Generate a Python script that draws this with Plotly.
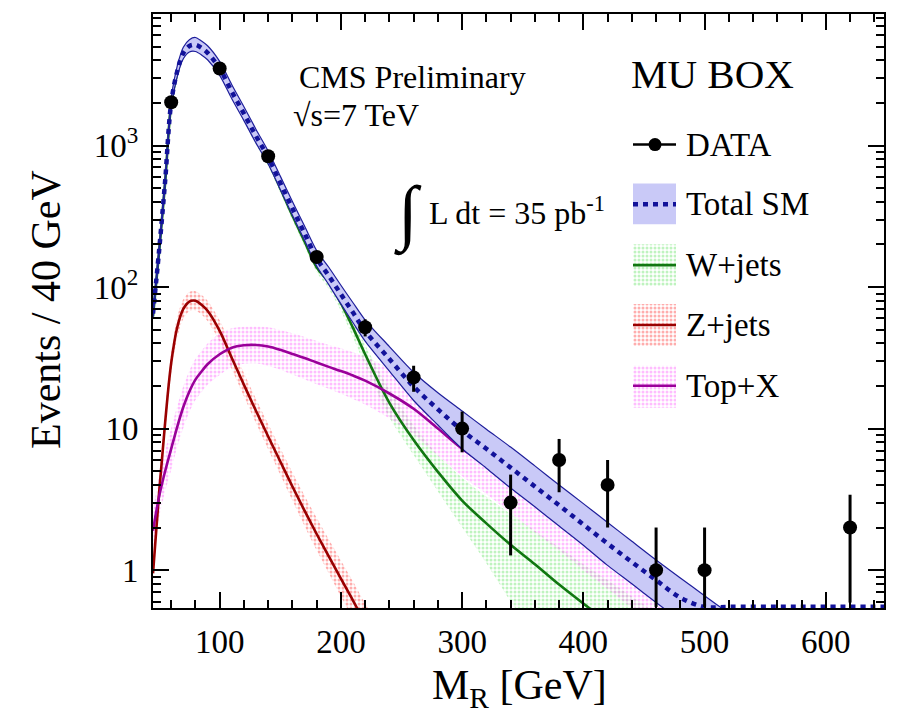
import math
import plotly.graph_objects as go

# ---------------- data ----------------
mr = [45, 50, 55, 60, 65, 70, 75, 80, 85, 90, 100, 110, 120, 130, 140, 150, 160, 170, 180, 190,
      200, 210, 220, 240, 260, 280, 300, 320, 340, 360, 380, 400, 420, 440, 460, 480, 500, 520,
      560, 600, 650]

total = [65, 180, 560, 2000, 3350, 4500, 5050, 5150, 4900, 4520, 3500, 2400, 1680, 1165, 825, 545,
         360, 240, 160, 120, 89, 66, 49, 31, 19.8, 13.7, 9.7, 7.2, 5.3, 3.9, 2.87, 2.1, 1.54, 1.14,
         0.85, 0.64, 0.55, 0.55, 0.55, 0.55, 0.55]
total_hi = [70, 194, 605, 2170, 3650, 4950, 5600, 5800, 5480, 5070, 3930, 2690, 1880, 1300, 915,
            608, 403, 270, 181, 138, 103, 77.5, 58.5, 38, 25, 17.9, 13.3, 9.9, 7.4, 5.45, 4.0, 2.95,
            2.17, 1.6, 1.18, 0.88, 0.66, 0.5, 0.34, 0.23, 0.14]
total_lo = [60, 167, 518, 1850, 3080, 4100, 4580, 4620, 4370, 4040, 3130, 2140, 1500, 1040, 740,
            490, 322, 214, 141, 104, 76, 56, 41.5, 25.5, 15.8, 10.6, 7.2, 5.25, 3.8, 2.8, 2.05, 1.5,
            1.08, 0.8, 0.59, 0.44, 0.33, 0.25, 0.16, 0.1, 0.06]

wjets = [62, 175, 545, 1950, 3250, 4350, 4900, 5000, 4750, 4370, 3400, 2310, 1600, 1095, 770, 500,
         320, 210, 138, 108, 77, 51.5, 33.5, 15.2, 8.3, 4.95, 3.1, 2.14, 1.51, 1.1, 0.79, 0.58,
         0.43, 0.32, 0.24, 0.18, 0.13, 0.1, 0.06, 0.035, 0.02]
wjets_hi = [67, 189, 589, 2106, 3510, 4698, 5292, 5400, 5130, 4720, 3672, 2495, 1728, 1183, 832,
            540, 346, 227, 149, 118, 86, 59, 39, 19, 10.6, 6.5, 4.5, 3.3, 2.5, 1.9, 1.45, 1.1,
            0.85, 0.65, 0.5, 0.38, 0.29, 0.22, 0.13, 0.08, 0.05]
wjets_lo = [57, 162, 505, 1806, 3009, 4028, 4537, 4630, 4400, 4046, 3148, 2139, 1481, 1014, 713,
            463, 296, 194, 128, 97, 68, 44, 28, 12, 6.5, 3.6, 2.0, 1.12, 0.6, 0.33, 0.18,
            0.1, 0.06, 0.03, 0.02, 0.015, 0.01, 0.008, 0.005, 0.003, 0.002]

zjets = [0.95, 3.5, 11, 29, 52, 70, 79, 80, 75, 68, 49, 31.5, 20.4, 13.3, 8.8, 5.85, 3.9, 2.63,
         1.8, 1.25, 0.87, 0.61, 0.42, 0.2]
zjets_hi = [1.14, 4.2, 13.2, 34.2, 61.4, 81.9, 92.4, 93.6, 87.8, 80.2, 58.3, 37.8, 24.7, 16.2,
            10.8, 7.25, 4.91, 3.37, 2.34, 1.65, 1.17, 0.83, 0.58, 0.29]
zjets_lo = [0.79, 2.9, 9.2, 24.6, 44.1, 59.8, 67.5, 68.4, 64.1, 57.6, 41.2, 26.3, 16.9, 10.9,
            7.15, 4.72, 3.1, 2.05, 1.38, 0.95, 0.65, 0.45, 0.3, 0.13]

topx = [1.9, 3.3, 5.0, 7.2, 10.3, 14.2, 18.3, 22.2, 25.3, 28.5, 33.5, 37.3, 38.8, 39, 38, 36, 33.7,
        31.5, 29.3, 27.3, 25.5, 23.7, 21.8, 17.7, 13.8, 10.0, 7.2, 5.5, 4.1, 3.05, 2.3, 1.7, 1.27,
        0.95, 0.7, 0.52, 0.39, 0.29, 0.17, 0.1, 0.05]
topx_hi = [2.6, 4.6, 7.0, 10.1, 14.4, 19.9, 25.6, 31.1, 35.4, 39.9, 46.9, 51.1, 52.4, 52.7, 52.1,
           49.7, 47.2, 44.4, 41.6, 39.0, 37.0, 34.6, 32.0, 26.6, 21.0, 15.5, 11.3, 8.8, 6.6, 5.0,
           3.6, 2.65, 2.0, 1.45, 1.05, 0.75, 0.55, 0.4, 0.25, 0.15, 0.08]
topx_lo = [1.4, 2.35, 3.6, 5.1, 7.4, 10.1, 13.1, 15.9, 18.1, 20.4, 23.9, 27.2, 28.7, 28.9, 27.7,
           26.1, 24.1, 22.3, 20.6, 19.1, 17.6, 16.2, 14.8, 11.8, 9.1, 6.45, 4.6, 3.45, 2.53, 1.85,
           1.38, 1.0, 0.74, 0.54, 0.39, 0.29, 0.21, 0.16, 0.09, 0.05, 0.03]

data_x = [60, 100, 140, 180, 220, 260, 300, 340, 380, 420, 460, 500, 620]
data_y = [2020, 3500, 840, 163, 52, 23, 10, 3, 6, 4, 1, 1, 2]
data_err_up = [45, 59, 29, 12.8, 7.2, 4.8, 3.2, 1.73, 2.45, 2.0, 1.0, 1.0, 1.41]
data_err_dn = [45, 59, 29, 12.8, 7.2, 4.8, 3.2, 1.73, 2.45, 2.0, 0.45, 0.45, 1.41]

x_ticks = [100, 200, 300, 400, 500, 600]
y_ticks = [1, 10, 100, 1000]
y_ticktext = ["1", "10", "10<sup>2</sup>", "10<sup>3</sup>"]
y_minor = [0.6, 0.7, 0.8, 0.9] + [m * d for d in (1, 10, 100) for m in range(2, 10)] + \
          [2000, 3000, 4000, 5000, 6000, 7000, 8000]

# ---------------- styles ----------------
FONT = "Liberation Serif"
BLUE_FILL = "#c9c9f7"
BLUE_EDGE = "#1e1e9b"
BLUE_DASH = "#12129a"
GREEN = "#117711"
GREEN_H = "#7fe87f"
RED = "#990000"
RED_H = "#ff5c5c"
PURP = "#990099"
PINK_H = "#ff7bff"

W, H = 898, 716
L, R, T, B = 153, 14, 12, 108
PW, PH = W - L - R, H - T - B


def px(X):
    return (X - L) / PW


def py(Y):
    return (H - B - Y) / PH


fig = go.Figure()


def band(x, lo, hi, color, pattern=True):
    xs = list(x) + list(x)[::-1]
    ys = list(hi) + list(lo)[::-1]
    kw = dict(x=xs, y=ys, mode="lines", fill="toself",
              line=dict(width=0, color=color, shape="spline", smoothing=0.8),
              hoverinfo="skip", showlegend=False)
    if pattern:
        kw["fillpattern"] = dict(shape=".", fgcolor=color, size=4, solidity=0.45)
        kw["fillcolor"] = "rgba(0,0,0,0)"
    return go.Scatter(**kw)


nz = len(zjets)
fig.add_trace(band(mr, wjets_lo, wjets_hi, GREEN_H))
fig.add_trace(band(mr[:nz], zjets_lo, zjets_hi, RED_H))
fig.add_trace(band(mr, topx_lo, topx_hi, PINK_H))

for yv, c, xs in ((wjets, GREEN, mr), (zjets, RED, mr[:nz]), (topx, PURP, mr)):
    fig.add_trace(go.Scatter(x=xs, y=yv, mode="lines", line=dict(color=c, width=2.6, shape="spline"),
                             hoverinfo="skip", showlegend=False))

# Total SM band (opaque) with edges
fig.add_trace(go.Scatter(x=list(mr) + list(mr)[::-1], y=list(total_hi) + list(total_lo)[::-1],
                         mode="lines", fill="toself", fillcolor=BLUE_FILL,
                         line=dict(color=BLUE_EDGE, width=1.2, shape="spline", smoothing=0.8),
                         hoverinfo="skip", showlegend=False))
fig.add_trace(go.Scatter(x=mr, y=total, mode="lines",
                         line=dict(color=BLUE_DASH, width=4.5, dash="5px,5px", shape="spline"),
                         hoverinfo="skip", showlegend=False))

# Data
fig.add_trace(go.Scatter(x=data_x, y=data_y, mode="markers",
                         marker=dict(size=14, color="black"),
                         error_y=dict(type="data", symmetric=False, array=data_err_up,
                                      arrayminus=data_err_dn, width=0, thickness=3, color="black"),
                         showlegend=False))

# ---------------- legend (drawn on an overlay 0..1 axis) ----------------
lx0, lx1 = px(633), px(676)


def box_trace(ytop, ybot, color, pattern):
    xs = [lx0, lx1, lx1, lx0, lx0]
    ys = [py(ytop), py(ytop), py(ybot), py(ybot), py(ytop)]
    kw = dict(x=xs, y=ys, mode="lines", fill="toself", line=dict(width=0),
              xaxis="x2", yaxis="y2", hoverinfo="skip", showlegend=False)
    if pattern:
        kw["fillpattern"] = dict(shape=".", fgcolor=color, size=4, solidity=0.45)
        kw["fillcolor"] = "rgba(0,0,0,0)"
    else:
        kw["fillcolor"] = color
    return go.Scatter(**kw)


def line_trace(yc, color, width, dash=None):
    return go.Scatter(x=[lx0, lx1], y=[py(yc), py(yc)], mode="lines",
                      line=dict(color=color, width=width, dash=dash),
                      xaxis="x2", yaxis="y2", hoverinfo="skip", showlegend=False)


fig.add_trace(line_trace(143, "black", 2.5))
fig.add_trace(go.Scatter(x=[px(655)], y=[py(143)], mode="markers", marker=dict(size=13, color="black"),
                         xaxis="x2", yaxis="y2", hoverinfo="skip", showlegend=False))
fig.add_trace(box_trace(182, 223, BLUE_FILL, False))
fig.add_trace(line_trace(203, BLUE_DASH, 4.5, "5px,5px"))
fig.add_trace(box_trace(243, 285, GREEN_H, True))
fig.add_trace(line_trace(264, GREEN, 2.6))
fig.add_trace(box_trace(303, 345, RED_H, True))
fig.add_trace(line_trace(324, RED, 2.6))
fig.add_trace(box_trace(365, 407, PINK_H, True))
fig.add_trace(line_trace(385, PURP, 2.6))

ann = []


def text(X, Y, s, size, xanchor="left", yanchor="middle", angle=0):
    ann.append(dict(x=px(X), y=py(Y), xref="paper", yref="paper", text=s, showarrow=False,
                    xanchor=xanchor, yanchor=yanchor, textangle=angle,
                    font=dict(family=FONT, size=size, color="black")))


text(712, 72, "MU BOX", 41, xanchor="center")
for s, yc in (("DATA", 143), ("Total SM", 203), ("W+jets", 264), ("Z+jets", 324), ("Top+X", 385)):
    text(684, yc, s, 33)
text(412, 75, "CMS Preliminary", 32, xanchor="center")
text(291, 113, "√s=7 TeV", 32)
text(408, 213, "∫", 72, xanchor="center")
text(427, 210, "L dt = 35 pb<sup>-1</sup>", 32)
text(519, 688, "M<sub>R</sub> [GeV]", 42, xanchor="center")
text(46, 308, "Events / 40 GeV", 42, xanchor="center", angle=-90)

axis_common = dict(showline=True, linecolor="black", linewidth=2, mirror="allticks",
                   ticks="inside", ticklen=16, tickwidth=1.5, tickcolor="black",
                   showgrid=False, zeroline=False,
                   tickfont=dict(family=FONT, size=33, color="black"))

fig.update_layout(
    width=W, height=H, autosize=False,
    margin=dict(l=L, r=R, t=T, b=B, pad=0),
    paper_bgcolor="white", plot_bgcolor="white",
    showlegend=False,
    annotations=ann,
    xaxis=dict(range=[45, 648], tickmode="array", tickvals=x_ticks, ticklabelstandoff=3,
               minor=dict(dtick=20, tick0=0, ticks="inside", ticklen=8, tickwidth=1.5,
                          tickcolor="black", showgrid=False),
               **axis_common),
    yaxis=dict(type="log", range=[math.log10(0.54), math.log10(8500)], tickmode="array",
               tickvals=y_ticks, ticktext=y_ticktext, ticklabelstandoff=6,
               minor=dict(tickmode="array", tickvals=y_minor, ticks="inside", ticklen=8,
                          tickwidth=1.5, tickcolor="black", showgrid=False),
               **axis_common),
    xaxis2=dict(overlaying="x", range=[0, 1], visible=False, anchor="y2"),
    yaxis2=dict(overlaying="y", range=[0, 1], visible=False, anchor="x2"),
)

fig.write_html("out.html")
